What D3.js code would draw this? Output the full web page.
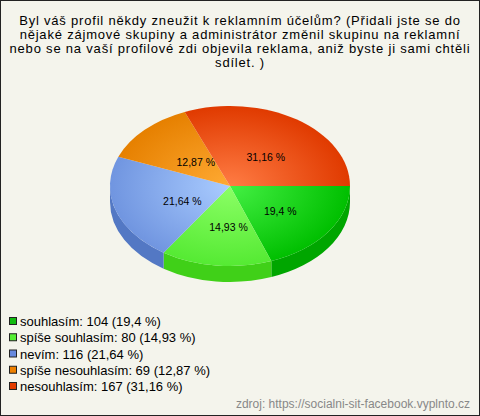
<!DOCTYPE html>
<html>
<head>
<meta charset="utf-8" />
<title>Pie</title>
<script src="https://d3js.org/d3.v7.min.js"></script>
<style>
  body { margin: 0; background: #fff; }
  svg text { font-family: "Liberation Sans", Arial, sans-serif; }
</style>
</head>
<body>
<script>
// data
var titleLines = [
  "Byl váš profil někdy zneužit k reklamním účelům? (Přidali jste se do",
  "nějaké zájmové skupiny a administrátor změnil skupinu na reklamní",
  "nebo se na vaší profilové zdi objevila reklama, aniž byste ji sami chtěli",
  "sdílet. )"
];
var categories = ["souhlasím", "spíše souhlasím", "nevím", "spíše nesouhlasím", "nesouhlasím"];
var counts = [104, 80, 116, 69, 167];
var percentLabels = ["19,4 %", "14,93 %", "21,64 %", "12,87 %", "31,16 %"];
var source = "zdroj: https://socialni-sit-facebook.vyplnto.cz";

// colours: legend, top centre, top edge, side
var legendColors = ["#11bb11", "#55ee33", "#6688dd", "#ee8000", "#e23c00"];
var topInner = ["#44f044", "#8cff66", "#aaccff", "#ffaa33", "#ff7c44"];
var topOuter = ["#00bf00", "#55ea33", "#7095e0", "#e68000", "#e03a00"];
var sideColors = ["#00a600", "#40d018", "#5378c4", "#c86e00", "#c43200"];

var W = 480, H = 416;
var cx = 230, cy = 186, rx = 120, ry = 80, depth = 16;

var svg = d3.select("body").append("svg")
  .attr("width", W).attr("height", H);

svg.append("rect").attr("x", 0.5).attr("y", 0.5)
  .attr("width", W - 1).attr("height", H - 1)
  .attr("fill", "#f4f4ec").attr("stroke", "#222");

// title
svg.append("g").selectAll("text").data(titleLines).enter().append("text")
  .attr("x", W / 2)
  .attr("y", function(d, i) { return 25 + i * 14; })
  .attr("text-anchor", "middle")
  .attr("font-size", 13)
  .attr("letter-spacing", "0.8px")
  .attr("fill", "#000")
  .text(function(d) { return d; });

var defs = svg.append("defs");
categories.forEach(function(c, i) {
  var g = defs.append("radialGradient").attr("id", "top" + i)
    .attr("gradientUnits", "userSpaceOnUse")
    .attr("cx", cx).attr("cy", cy).attr("r", rx)
    .attr("gradientTransform", "translate(" + cx + "," + cy + ") scale(1," + (ry / rx) + ") translate(" + (-cx) + "," + (-cy) + ")");
  g.append("stop").attr("offset", "0%").attr("stop-color", topInner[i]);
  g.append("stop").attr("offset", "100%").attr("stop-color", topOuter[i]);
});

var pie = d3.pie().sort(null)
  .startAngle(Math.PI / 2).endAngle(Math.PI * 5 / 2)
  .value(function(d) { return d; });
var arcs = pie(counts);

function pt(a, dy) {
  return [cx + rx * Math.sin(a), cy - ry * Math.cos(a) + (dy || 0)];
}

// side walls (front half only: angles between PI/2 and 3PI/2)
var sides = svg.append("g");
arcs.forEach(function(d, i) {
  var a0 = Math.max(d.startAngle, Math.PI / 2);
  var a1 = Math.min(d.endAngle, Math.PI * 3 / 2);
  if (a1 <= a0) return;
  var p0 = pt(a0), p1 = pt(a1), q1 = pt(a1, depth), q0 = pt(a0, depth);
  var p = "M" + p0 + "A" + rx + "," + ry + " 0 0 1 " + p1 +
    "L" + q1 + "A" + rx + "," + ry + " 0 0 0 " + q0 + "Z";
  sides.append("path").attr("d", p).attr("fill", sideColors[i]);
});

// tops
var tops = svg.append("g");
arcs.forEach(function(d, i) {
  var p0 = pt(d.startAngle), p1 = pt(d.endAngle);
  var large = (d.endAngle - d.startAngle) > Math.PI ? 1 : 0;
  var p = "M" + cx + "," + cy + "L" + p0 + "A" + rx + "," + ry + " 0 " + large + " 1 " + p1 + "Z";
  tops.append("path").attr("d", p).attr("fill", "url(#top" + i + ")");
});

// labels
function mid(d) { return (d.startAngle + d.endAngle) / 2; }
svg.append("g").selectAll("text").data(arcs).enter().append("text")
  .attr("x", function(d) { return cx + 5 + 0.46 * rx * Math.sin(mid(d)); })
  .attr("y", function(d) { return cy + 7 - 0.48 * ry * Math.cos(mid(d)); })
  .attr("text-anchor", "middle")
  .attr("font-size", 10.5)
  .attr("fill", "#000")
  .text(function(d, i) { return percentLabels[i]; });

// legend
var ly = d3.scalePoint().domain(categories).range([321, 386]);
var leg = svg.append("g").selectAll("g").data(categories).enter().append("g")
  .attr("transform", function(d) { return "translate(0," + ly(d) + ")"; });
leg.append("rect").attr("x", 9.5).attr("y", -3.5).attr("width", 7).attr("height", 7)
  .attr("fill", function(d, i) { return legendColors[i]; })
  .attr("stroke", "#222").attr("stroke-width", 1);
leg.append("text").attr("x", 20).attr("y", 5)
  .attr("font-size", 13).attr("fill", "#000")
  .text(function(d, i) { return d + ": " + counts[i] + " (" + percentLabels[i] + ")"; });

svg.append("text").attr("x", 470).attr("y", 408)
  .attr("text-anchor", "end").attr("font-size", 12).attr("fill", "#888")
  .text(source);
</script>
</body>
</html>
